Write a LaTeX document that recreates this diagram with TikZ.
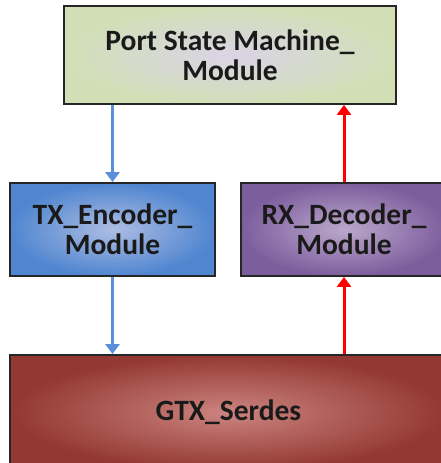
\documentclass[tikz,border=0pt]{standalone}
\usepackage{fontspec}
\setmainfont{Carlito}
\usetikzlibrary{arrows.meta}
\definecolor{txtdark}{HTML}{1A1A1A}
\definecolor{psmOuter}{HTML}{D2DFB6}
\definecolor{psmInner}{HTML}{DAD4E6}
\definecolor{txOuter}{HTML}{5086D0}
\definecolor{txInner}{HTML}{ADBDE3}
\definecolor{rxOuter}{HTML}{7D5E9D}
\definecolor{rxInner}{HTML}{BBA8CC}
\definecolor{gtOuter}{HTML}{933832}
\definecolor{gtInner}{HTML}{CC8480}
\definecolor{txArrow}{HTML}{5A8FDA}
\tikzset{
  block/.style={draw=black!85, line width=1.8pt, shading=radial, anchor=center,
    text=txtdark, font=\fontsize{29.5}{30}\selectfont\bfseries, align=center,
    inner sep=0pt},
  flowtx/.style={draw=txArrow, line width=3pt, -{Triangle[length=10pt,width=14pt]}},
  flowrx/.style={draw=red, line width=3pt, -{Triangle[length=10pt,width=14pt]}}
}
\begin{document}
\begin{tikzpicture}[x=1pt,y=1pt]
\useasboundingbox (0,0) rectangle (441,463);
\fill[white] (0,0) rectangle (441,463);
\node[block, minimum width=332pt, minimum height=98pt, inner color=psmInner, outer color=psmOuter]
  (psm) at (230,408) {Port State Machine\_\\Module};
\node[block, minimum width=205pt, minimum height=93pt, inner color=txInner, outer color=txOuter]
  (tx) at (112.5,233.5) {TX\_Encoder\_\\Module};
\node[block, minimum width=206pt, minimum height=93pt, inner color=rxInner, outer color=rxOuter]
  (rx) at (344,233.5) {RX\_Decoder\_\\Module};
\node[block, minimum width=437pt, minimum height=115pt, inner color=gtInner, outer color=gtOuter]
  (gtx) at (228.5,50.5) {GTX\_Serdes};
\draw[flowtx] (psm.south -| tx.north) -- (tx.north);
\draw[flowtx] (tx.south) -- (gtx.north -| tx.south);
\draw[flowrx] (gtx.north -| rx.south) -- (rx.south);
\draw[flowrx] (rx.north) -- (psm.south -| rx.north);
\end{tikzpicture}
\end{document}
